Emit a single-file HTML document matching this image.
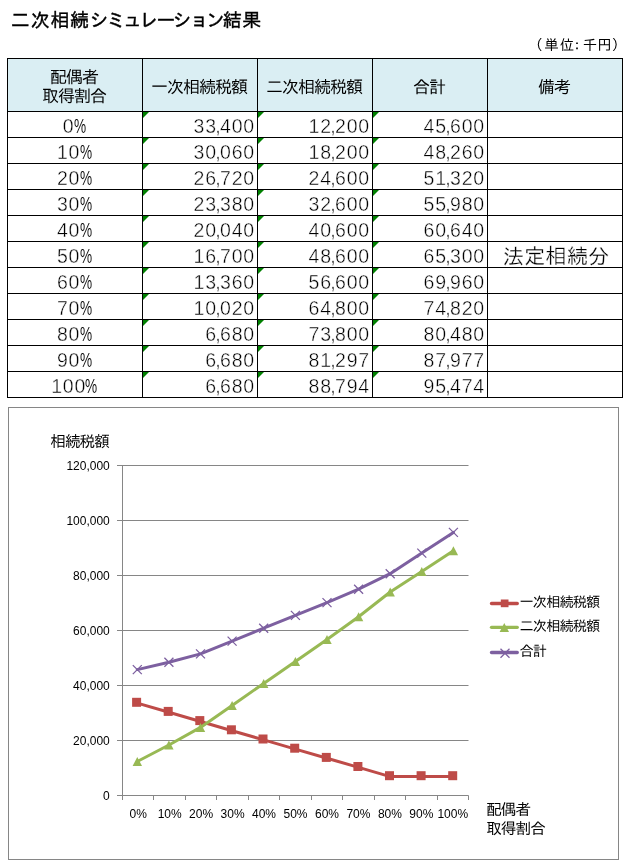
<!DOCTYPE html>
<html lang="ja"><head><meta charset="utf-8"><title>二次相続シミュレーション結果</title>
<style>
html,body{margin:0;padding:0;background:#fff}
body{width:624px;height:868px;position:relative;overflow:hidden;font-family:"Liberation Sans","IPAGothic","Noto Sans CJK JP",sans-serif;color:#000}
.jp{font-family:"Liberation Sans","IPAGothic","Noto Sans CJK JP",sans-serif}
.title{position:absolute;left:11px;top:10px;font-size:19px;font-weight:normal;-webkit-text-stroke:.4px #000;line-height:22px;white-space:nowrap;letter-spacing:.7px}
.title .k{letter-spacing:-2.4px}
.unit{position:absolute;left:528.15px;top:37px;font-size:14.5px;line-height:17px;white-space:nowrap}
.c{position:absolute;box-sizing:border-box;border:1px solid #000;display:flex;align-items:center;justify-content:center;white-space:nowrap;background:#fff}
.h{background:#daeef3;font-size:17px;line-height:19px;text-align:center;letter-spacing:-1px;padding:4px 2px 0 0}
.p,.n{-webkit-text-stroke:.4px #fff}
.p{font-size:19.5px;letter-spacing:.8px;padding:3px 3px 0 0}
.p b{-webkit-text-stroke:.1px #fff;font-weight:normal;display:inline-block;width:10.5px;margin-left:-.7px;transform:scaleX(.7);transform-origin:0 50%;letter-spacing:0}
.n{font-size:19.5px;letter-spacing:.8px;justify-content:flex-end;padding:3px 2px 0 0}
.n i{font-style:normal;margin:0 -1.5px}
.n:before{content:"";position:absolute;left:0;top:0;border-top:6px solid #008000;border-right:6px solid transparent}
.r{-webkit-text-stroke:.3px #fff;font-size:21.33px;padding:6px 0 0 2px}
.chart{position:absolute;left:8px;top:407px;width:611px;height:453px;box-sizing:border-box;border:1px solid #868686;background:#fff}
svg{position:absolute;left:0;top:0}
svg text{font-family:"Liberation Sans",sans-serif;font-size:12px;fill:#000}
svg text.j{font-family:"Liberation Sans","IPAGothic","Noto Sans CJK JP",sans-serif}
</style></head><body>
<div class="title jp">二次相続<span class="k">シミュレーション</span>結果</div>
<div class="unit jp">（<span style="margin-left:1.6px">単</span><span style="margin-left:1px">位</span><span style="margin-left:-4.4px">：</span><span style="margin-left:-1.7px">千</span><span style="margin-left:.1px">円</span>）</div>
<div class="c h jp" style="left:7px;top:58px;width:136px;height:54px">配偶者<br>取得割合</div>
<div class="c h jp" style="left:142px;top:58px;width:116px;height:54px">一次相続税額</div>
<div class="c h jp" style="left:257px;top:58px;width:116px;height:54px">二次相続税額</div>
<div class="c h jp" style="left:372px;top:58px;width:116px;height:54px">合計</div>
<div class="c h jp" style="left:487px;top:58px;width:136px;height:54px">備考</div>
<div class="c p" style="left:7px;top:111px;width:136px;height:27px">0<b>%</b></div>
<div class="c n" style="left:142px;top:111px;width:116px;height:27px">33<i>,</i>400</div>
<div class="c n" style="left:257px;top:111px;width:116px;height:27px">12<i>,</i>200</div>
<div class="c n" style="left:372px;top:111px;width:116px;height:27px">45<i>,</i>600</div>
<div class="c r jp" style="left:487px;top:111px;width:136px;height:27px"></div>
<div class="c p" style="left:7px;top:137px;width:136px;height:27px">10<b>%</b></div>
<div class="c n" style="left:142px;top:137px;width:116px;height:27px">30<i>,</i>060</div>
<div class="c n" style="left:257px;top:137px;width:116px;height:27px">18<i>,</i>200</div>
<div class="c n" style="left:372px;top:137px;width:116px;height:27px">48<i>,</i>260</div>
<div class="c r jp" style="left:487px;top:137px;width:136px;height:27px"></div>
<div class="c p" style="left:7px;top:163px;width:136px;height:27px">20<b>%</b></div>
<div class="c n" style="left:142px;top:163px;width:116px;height:27px">26<i>,</i>720</div>
<div class="c n" style="left:257px;top:163px;width:116px;height:27px">24<i>,</i>600</div>
<div class="c n" style="left:372px;top:163px;width:116px;height:27px">51<i>,</i>320</div>
<div class="c r jp" style="left:487px;top:163px;width:136px;height:27px"></div>
<div class="c p" style="left:7px;top:189px;width:136px;height:27px">30<b>%</b></div>
<div class="c n" style="left:142px;top:189px;width:116px;height:27px">23<i>,</i>380</div>
<div class="c n" style="left:257px;top:189px;width:116px;height:27px">32<i>,</i>600</div>
<div class="c n" style="left:372px;top:189px;width:116px;height:27px">55<i>,</i>980</div>
<div class="c r jp" style="left:487px;top:189px;width:136px;height:27px"></div>
<div class="c p" style="left:7px;top:215px;width:136px;height:27px">40<b>%</b></div>
<div class="c n" style="left:142px;top:215px;width:116px;height:27px">20<i>,</i>040</div>
<div class="c n" style="left:257px;top:215px;width:116px;height:27px">40<i>,</i>600</div>
<div class="c n" style="left:372px;top:215px;width:116px;height:27px">60<i>,</i>640</div>
<div class="c r jp" style="left:487px;top:215px;width:136px;height:27px"></div>
<div class="c p" style="left:7px;top:241px;width:136px;height:27px">50<b>%</b></div>
<div class="c n" style="left:142px;top:241px;width:116px;height:27px">16<i>,</i>700</div>
<div class="c n" style="left:257px;top:241px;width:116px;height:27px">48<i>,</i>600</div>
<div class="c n" style="left:372px;top:241px;width:116px;height:27px">65<i>,</i>300</div>
<div class="c r jp" style="left:487px;top:241px;width:136px;height:27px">法定相続分</div>
<div class="c p" style="left:7px;top:267px;width:136px;height:27px">60<b>%</b></div>
<div class="c n" style="left:142px;top:267px;width:116px;height:27px">13<i>,</i>360</div>
<div class="c n" style="left:257px;top:267px;width:116px;height:27px">56<i>,</i>600</div>
<div class="c n" style="left:372px;top:267px;width:116px;height:27px">69<i>,</i>960</div>
<div class="c r jp" style="left:487px;top:267px;width:136px;height:27px"></div>
<div class="c p" style="left:7px;top:293px;width:136px;height:27px">70<b>%</b></div>
<div class="c n" style="left:142px;top:293px;width:116px;height:27px">10<i>,</i>020</div>
<div class="c n" style="left:257px;top:293px;width:116px;height:27px">64<i>,</i>800</div>
<div class="c n" style="left:372px;top:293px;width:116px;height:27px">74<i>,</i>820</div>
<div class="c r jp" style="left:487px;top:293px;width:136px;height:27px"></div>
<div class="c p" style="left:7px;top:319px;width:136px;height:27px">80<b>%</b></div>
<div class="c n" style="left:142px;top:319px;width:116px;height:27px">6<i>,</i>680</div>
<div class="c n" style="left:257px;top:319px;width:116px;height:27px">73<i>,</i>800</div>
<div class="c n" style="left:372px;top:319px;width:116px;height:27px">80<i>,</i>480</div>
<div class="c r jp" style="left:487px;top:319px;width:136px;height:27px"></div>
<div class="c p" style="left:7px;top:345px;width:136px;height:27px">90<b>%</b></div>
<div class="c n" style="left:142px;top:345px;width:116px;height:27px">6<i>,</i>680</div>
<div class="c n" style="left:257px;top:345px;width:116px;height:27px">81<i>,</i>297</div>
<div class="c n" style="left:372px;top:345px;width:116px;height:27px">87<i>,</i>977</div>
<div class="c r jp" style="left:487px;top:345px;width:136px;height:27px"></div>
<div class="c p" style="left:7px;top:371px;width:136px;height:27px">100<b>%</b></div>
<div class="c n" style="left:142px;top:371px;width:116px;height:27px">6<i>,</i>680</div>
<div class="c n" style="left:257px;top:371px;width:116px;height:27px">88<i>,</i>794</div>
<div class="c n" style="left:372px;top:371px;width:116px;height:27px">95<i>,</i>474</div>
<div class="c r jp" style="left:487px;top:371px;width:136px;height:27px"></div>
<div class="chart"></div>
<svg width="624" height="868" viewBox="0 0 624 868">
<line x1="117.0" y1="795.5" x2="468.5" y2="795.5" stroke="#868686" stroke-width="1"/>
<line x1="117.0" y1="740.5" x2="468.5" y2="740.5" stroke="#868686" stroke-width="1"/>
<line x1="117.0" y1="685.5" x2="468.5" y2="685.5" stroke="#868686" stroke-width="1"/>
<line x1="117.0" y1="630.5" x2="468.5" y2="630.5" stroke="#868686" stroke-width="1"/>
<line x1="117.0" y1="575.5" x2="468.5" y2="575.5" stroke="#868686" stroke-width="1"/>
<line x1="117.0" y1="520.5" x2="468.5" y2="520.5" stroke="#868686" stroke-width="1"/>
<line x1="117.0" y1="465.5" x2="468.5" y2="465.5" stroke="#868686" stroke-width="1"/>
<line x1="122.5" y1="465.5" x2="122.5" y2="795.5" stroke="#868686" stroke-width="1"/>
<line x1="122.5" y1="795.5" x2="122.5" y2="800.0" stroke="#868686" stroke-width="1"/>
<line x1="153.5" y1="795.5" x2="153.5" y2="800.0" stroke="#868686" stroke-width="1"/>
<line x1="185.5" y1="795.5" x2="185.5" y2="800.0" stroke="#868686" stroke-width="1"/>
<line x1="216.5" y1="795.5" x2="216.5" y2="800.0" stroke="#868686" stroke-width="1"/>
<line x1="248.5" y1="795.5" x2="248.5" y2="800.0" stroke="#868686" stroke-width="1"/>
<line x1="279.5" y1="795.5" x2="279.5" y2="800.0" stroke="#868686" stroke-width="1"/>
<line x1="311.5" y1="795.5" x2="311.5" y2="800.0" stroke="#868686" stroke-width="1"/>
<line x1="342.5" y1="795.5" x2="342.5" y2="800.0" stroke="#868686" stroke-width="1"/>
<line x1="374.5" y1="795.5" x2="374.5" y2="800.0" stroke="#868686" stroke-width="1"/>
<line x1="405.5" y1="795.5" x2="405.5" y2="800.0" stroke="#868686" stroke-width="1"/>
<line x1="437.5" y1="795.5" x2="437.5" y2="800.0" stroke="#868686" stroke-width="1"/>
<line x1="468.5" y1="795.5" x2="468.5" y2="800.0" stroke="#868686" stroke-width="1"/>
<text x="109.8" y="799.5" text-anchor="end">0</text>
<text x="109.8" y="744.5" text-anchor="end">20,000</text>
<text x="109.8" y="689.5" text-anchor="end">40,000</text>
<text x="109.8" y="634.5" text-anchor="end">60,000</text>
<text x="109.8" y="579.5" text-anchor="end">80,000</text>
<text x="109.8" y="524.5" text-anchor="end">100,000</text>
<text x="109.8" y="469.5" text-anchor="end">120,000</text>
<text x="138.2" y="818" text-anchor="middle">0%</text>
<text x="169.7" y="818" text-anchor="middle">10%</text>
<text x="201.1" y="818" text-anchor="middle">20%</text>
<text x="232.6" y="818" text-anchor="middle">30%</text>
<text x="264.0" y="818" text-anchor="middle">40%</text>
<text x="295.5" y="818" text-anchor="middle">50%</text>
<text x="327.0" y="818" text-anchor="middle">60%</text>
<text x="358.4" y="818" text-anchor="middle">70%</text>
<text x="389.9" y="818" text-anchor="middle">80%</text>
<text x="421.3" y="818" text-anchor="middle">90%</text>
<text x="452.8" y="818" text-anchor="middle">100%</text>
<polyline fill="none" stroke="#be4b48" stroke-width="3" stroke-linejoin="round" stroke-linecap="round" points="137.3,703.1 168.9,712.3 200.5,721.5 232.1,730.7 263.7,739.9 295.4,749.1 327.0,758.3 358.6,767.4 390.2,776.6 421.8,776.6 453.4,776.6"/>
<rect x="132.1" y="697.8" width="9.0" height="9.0" fill="#be4b48"/>
<rect x="163.7" y="706.9" width="9.0" height="9.0" fill="#be4b48"/>
<rect x="195.3" y="716.1" width="9.0" height="9.0" fill="#be4b48"/>
<rect x="226.9" y="725.3" width="9.0" height="9.0" fill="#be4b48"/>
<rect x="258.5" y="734.5" width="9.0" height="9.0" fill="#be4b48"/>
<rect x="290.2" y="743.7" width="9.0" height="9.0" fill="#be4b48"/>
<rect x="321.8" y="752.9" width="9.0" height="9.0" fill="#be4b48"/>
<rect x="353.4" y="762.0" width="9.0" height="9.0" fill="#be4b48"/>
<rect x="385.0" y="771.2" width="9.0" height="9.0" fill="#be4b48"/>
<rect x="416.6" y="771.2" width="9.0" height="9.0" fill="#be4b48"/>
<rect x="448.2" y="771.2" width="9.0" height="9.0" fill="#be4b48"/>
<polyline fill="none" stroke="#98b954" stroke-width="3" stroke-linejoin="round" stroke-linecap="round" points="137.3,761.5 168.9,745.0 200.5,727.4 232.1,705.4 263.7,683.4 295.4,661.4 327.0,639.4 358.6,616.8 390.2,592.0 421.8,571.4 453.4,550.8"/>
<path d="M137.3 757.0L142.0 766.0L132.6 766.0Z" fill="#98b954"/>
<path d="M168.9 740.5L173.6 749.5L164.2 749.5Z" fill="#98b954"/>
<path d="M200.5 722.9L205.2 731.9L195.8 731.9Z" fill="#98b954"/>
<path d="M232.1 700.9L236.8 709.9L227.4 709.9Z" fill="#98b954"/>
<path d="M263.7 678.9L268.4 687.9L259.0 687.9Z" fill="#98b954"/>
<path d="M295.4 656.9L300.1 665.9L290.7 665.9Z" fill="#98b954"/>
<path d="M327.0 634.9L331.7 643.9L322.3 643.9Z" fill="#98b954"/>
<path d="M358.6 612.3L363.3 621.3L353.9 621.3Z" fill="#98b954"/>
<path d="M390.2 587.5L394.9 596.5L385.5 596.5Z" fill="#98b954"/>
<path d="M421.8 566.9L426.5 575.9L417.1 575.9Z" fill="#98b954"/>
<path d="M453.4 546.3L458.1 555.3L448.7 555.3Z" fill="#98b954"/>
<polyline fill="none" stroke="#7d60a0" stroke-width="3" stroke-linejoin="round" stroke-linecap="round" points="137.3,669.6 168.9,662.3 200.5,653.9 232.1,641.1 263.7,628.2 295.4,615.4 327.0,602.6 358.6,589.2 390.2,573.7 421.8,553.1 453.4,532.4"/>
<path d="M132.8 665.1L141.8 674.1M141.8 665.1L132.8 674.1" stroke="#7d60a0" stroke-width="1.3" fill="none"/>
<path d="M164.4 657.8L173.4 666.8M173.4 657.8L164.4 666.8" stroke="#7d60a0" stroke-width="1.3" fill="none"/>
<path d="M196.0 649.4L205.0 658.4M205.0 649.4L196.0 658.4" stroke="#7d60a0" stroke-width="1.3" fill="none"/>
<path d="M227.6 636.6L236.6 645.6M236.6 636.6L227.6 645.6" stroke="#7d60a0" stroke-width="1.3" fill="none"/>
<path d="M259.2 623.7L268.2 632.7M268.2 623.7L259.2 632.7" stroke="#7d60a0" stroke-width="1.3" fill="none"/>
<path d="M290.9 610.9L299.9 619.9M299.9 610.9L290.9 619.9" stroke="#7d60a0" stroke-width="1.3" fill="none"/>
<path d="M322.5 598.1L331.5 607.1M331.5 598.1L322.5 607.1" stroke="#7d60a0" stroke-width="1.3" fill="none"/>
<path d="M354.1 584.7L363.1 593.7M363.1 584.7L354.1 593.7" stroke="#7d60a0" stroke-width="1.3" fill="none"/>
<path d="M385.7 569.2L394.7 578.2M394.7 569.2L385.7 578.2" stroke="#7d60a0" stroke-width="1.3" fill="none"/>
<path d="M417.3 548.6L426.3 557.6M426.3 548.6L417.3 557.6" stroke="#7d60a0" stroke-width="1.3" fill="none"/>
<path d="M448.9 527.9L457.9 536.9M457.9 527.9L448.9 536.9" stroke="#7d60a0" stroke-width="1.3" fill="none"/>
<line x1="491.5" y1="603.5" x2="517.3" y2="603.5" stroke="#be4b48" stroke-width="3.3" stroke-linecap="round"/>
<rect x="500.8" y="599.5" width="7.7" height="7.7" fill="#be4b48"/>
<text class="j" x="519.5" y="607.1" style="font-size:14.2px;letter-spacing:-.87px">一次相続税額</text>
<line x1="491.5" y1="627.3" x2="517.3" y2="627.3" stroke="#98b954" stroke-width="3.3" stroke-linecap="round"/>
<path d="M504.3 623.1L509.0 632.1L499.6 632.1Z" fill="#98b954"/>
<text class="j" x="519.5" y="630.9" style="font-size:14.2px;letter-spacing:-.87px">二次相続税額</text>
<line x1="491.5" y1="652.5" x2="517.3" y2="652.5" stroke="#7d60a0" stroke-width="3.3" stroke-linecap="round"/>
<path d="M500.5 648.7L509.5 657.7M509.5 648.7L500.5 657.7" stroke="#7d60a0" stroke-width="1.3" fill="none"/>
<text class="j" x="519.5" y="656.1" style="font-size:14.2px;letter-spacing:-.87px">合計</text>
<text class="j" x="50.3" y="446.7" style="font-size:15.6px;letter-spacing:-.93px">相続税額</text>
<text class="j" x="486.2" y="815.2" style="font-size:15.6px;letter-spacing:-.93px">配偶者</text>
<text class="j" x="486.2" y="834" style="font-size:15.6px;letter-spacing:-.93px">取得割合</text>
</svg>
</body></html>
